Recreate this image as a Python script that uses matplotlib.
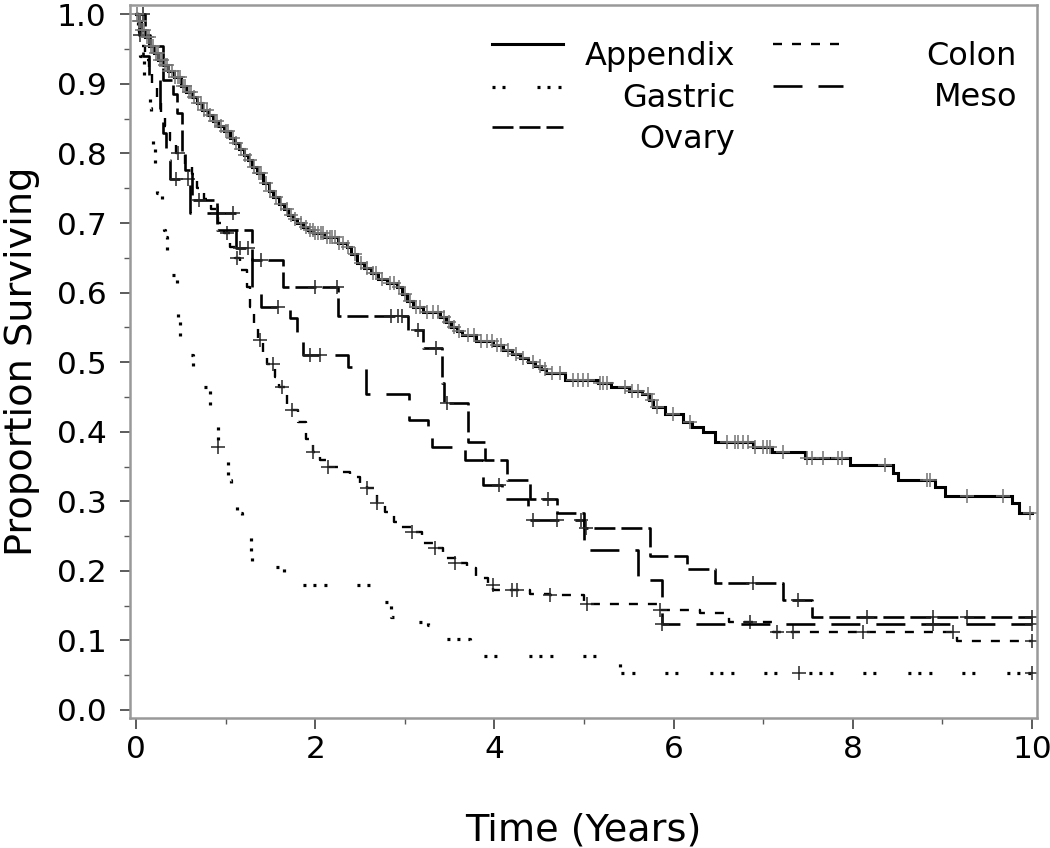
import numpy as np
import matplotlib
matplotlib.use("Agg")
import matplotlib.pyplot as plt

plt.rcParams['font.family'] = ['DejaVu Sans']
plt.rcParams['lines.scale_dashes'] = False

# Kaplan-Meier step data (time in years, proportion surviving)
app_t = [0.0, 0.03, 0.06, 0.1, 0.15, 0.2, 0.25, 0.3, 0.36, 0.42,
         0.5, 0.56, 0.62, 0.68, 0.74, 0.8, 0.86, 0.92, 0.98, 1.05,
         1.1, 1.15, 1.2, 1.25, 1.3, 1.35, 1.42, 1.48, 1.53, 1.6,
         1.65, 1.7, 1.75, 1.8, 1.86, 1.92, 1.98, 2.1, 2.25, 2.35,
         2.4, 2.47, 2.55, 2.62, 2.7, 2.8, 2.91, 2.97, 3.03, 3.09,
         3.2, 3.39, 3.46, 3.52, 3.58, 3.64, 3.8, 3.98, 4.1, 4.2,
         4.29, 4.38, 4.45, 4.52, 4.58, 4.79, 5.16, 5.3, 5.5, 5.65,
         5.72, 5.77, 5.9, 6.1, 6.2, 6.33, 6.46, 6.89, 7.1, 7.47,
         7.97, 8.45, 8.5, 8.92, 9.03, 9.78, 9.85]
app_s = [1.0, 0.99, 0.978, 0.968, 0.955, 0.945, 0.935, 0.927, 0.918, 0.91,
         0.897, 0.888, 0.881, 0.872, 0.862, 0.855, 0.847, 0.84, 0.833, 0.822,
         0.815, 0.807, 0.798, 0.79, 0.781, 0.772, 0.757, 0.746, 0.737, 0.728,
         0.72, 0.712, 0.706, 0.70, 0.695, 0.69, 0.685, 0.68, 0.672, 0.665,
         0.655, 0.642, 0.635, 0.628, 0.62, 0.614, 0.608, 0.598, 0.588, 0.579,
         0.572, 0.565, 0.558, 0.55, 0.545, 0.539, 0.53, 0.524, 0.517, 0.512,
         0.506, 0.5, 0.495, 0.49, 0.484, 0.475, 0.47, 0.464, 0.458, 0.454,
         0.445, 0.435, 0.425, 0.414, 0.407, 0.40, 0.385, 0.378, 0.371, 0.362,
         0.352, 0.34, 0.33, 0.32, 0.307, 0.297, 0.283]
app_cens = [0.01, 0.03, 0.05, 0.07, 0.09, 0.12, 0.14, 0.17, 0.19, 0.22,
            0.24, 0.27, 0.29, 0.32, 0.35, 0.37, 0.4, 0.44, 0.47, 0.49,
            0.53, 0.55, 0.59, 0.61, 0.65, 0.69, 0.72, 0.76, 0.79, 0.83,
            0.88, 0.9, 0.95, 1.0, 1.03, 1.08, 1.12, 1.17, 1.22, 1.27,
            1.32, 1.37, 1.4, 1.45, 1.5, 1.56, 1.62, 1.68, 1.73, 1.78,
            1.84, 1.9, 1.94, 1.97, 2.0, 2.03, 2.06, 2.09, 2.13, 2.16,
            2.19, 2.22, 2.27, 2.31, 2.37, 2.44, 2.51, 2.58, 2.64, 2.68,
            2.75, 2.83, 2.88, 2.94, 3.0, 3.06, 3.13, 3.17, 3.25, 3.31,
            3.37, 3.44, 3.49, 3.55, 3.61, 3.7, 3.77, 3.85, 3.92, 3.97,
            4.03, 4.07, 4.15, 4.24, 4.32, 4.43, 4.51, 4.56, 4.64, 4.73,
            4.88, 4.93, 4.99, 5.04, 5.18, 5.21, 5.26, 5.46, 5.54, 5.6,
            5.71, 5.76, 5.82, 5.99, 6.18, 6.6, 6.69, 6.72, 6.78, 6.83,
            6.91, 7.0, 7.04, 7.08, 7.22, 7.49, 7.54, 7.67, 7.83, 7.88,
            8.36, 8.83, 8.86, 9.27, 9.68, 9.98]

colon_t = [0.0, 0.03, 0.06, 0.1, 0.14, 0.18, 0.23, 0.28, 0.32, 0.38,
           0.45, 0.55, 0.62, 0.68, 0.76, 0.84, 0.92, 0.98, 1.05, 1.1,
           1.16, 1.24, 1.27, 1.32, 1.36, 1.42, 1.46, 1.55, 1.6, 1.68,
           1.72, 1.81, 1.9, 1.98, 2.05, 2.14, 2.25, 2.39, 2.5, 2.58,
           2.69, 2.78, 2.88, 2.95, 3.08, 3.19, 3.34, 3.43, 3.56, 3.69,
           3.8, 3.93, 3.99, 4.4, 4.62, 5.0, 5.85, 6.3, 6.62, 7.11, 9.16]
colon_s = [1.0, 0.975, 0.955, 0.935, 0.915, 0.9, 0.88, 0.86, 0.84, 0.82,
           0.80, 0.785, 0.77, 0.75, 0.735, 0.72, 0.70, 0.685, 0.665, 0.65,
           0.632, 0.608, 0.579, 0.55, 0.532, 0.515, 0.498, 0.478, 0.464, 0.44,
           0.431, 0.414, 0.39, 0.371, 0.36, 0.35, 0.342, 0.335, 0.325, 0.319,
           0.297, 0.285, 0.27, 0.263, 0.256, 0.24, 0.233, 0.218, 0.211, 0.204,
           0.19, 0.18, 0.172, 0.167, 0.165, 0.152, 0.144, 0.139, 0.127, 0.112, 0.099]
colon_cens = [0.47, 1.02, 1.13, 1.38, 1.53, 1.63, 1.74, 1.98, 2.14, 2.58,
              2.69, 3.08, 3.34, 3.56, 3.98, 4.2, 4.25, 4.62, 5.03, 5.85,
              6.85, 7.15, 7.33, 8.11, 9.12, 10.0]

gastric_t = [0.0, 0.02, 0.05, 0.09, 0.13, 0.16, 0.17, 0.18, 0.19, 0.21,
             0.23, 0.29, 0.31, 0.32, 0.35, 0.37, 0.46, 0.47, 0.49, 0.51,
             0.64, 0.68, 0.70, 0.83, 0.86, 0.91, 1.03, 1.06, 1.13, 1.18,
             1.28, 1.30, 1.65, 1.69, 2.70, 2.85, 2.95, 3.26, 3.39, 3.73, 5.40]
gastric_s = [1.0, 0.97, 0.94, 0.91, 0.88, 0.866, 0.837, 0.823, 0.809, 0.778,
             0.743, 0.71, 0.69, 0.68, 0.64, 0.625, 0.60, 0.565, 0.53, 0.51,
             0.49, 0.478, 0.464, 0.438, 0.42, 0.378, 0.33, 0.31, 0.283, 0.254,
             0.226, 0.205, 0.19, 0.18, 0.155, 0.134, 0.127, 0.122, 0.102, 0.077, 0.053]
gastric_cens = [0.92, 7.4, 10.0]

meso_t = [0.0, 0.03, 0.08, 0.15, 0.27, 0.3, 0.33, 0.38, 0.6, 1.12,
          1.3, 1.4, 1.72, 1.8, 1.86, 2.37, 2.57, 3.05, 3.26, 3.3,
          3.67, 3.87, 4.08, 4.38, 5.0, 5.6, 5.87]
meso_s = [1.0, 0.97, 0.94, 0.91, 0.86, 0.83, 0.79, 0.764, 0.714, 0.664,
          0.60, 0.58, 0.563, 0.53, 0.51, 0.493, 0.454, 0.417, 0.392, 0.378,
          0.359, 0.323, 0.303, 0.273, 0.23, 0.187, 0.124]
meso_cens = [0.05, 0.45, 0.58, 0.92, 1.08, 1.16, 1.25, 1.58, 1.94, 2.05,
             4.05, 4.43, 4.7, 4.97, 5.87, 8.9, 10.0]

ovary_t = [0.0, 0.1, 0.16, 0.3, 0.41, 0.46, 0.51, 0.55, 0.62, 0.9,
           1.3, 1.64, 2.25, 3.04, 3.2, 3.42, 3.44, 3.7, 3.9, 4.14,
           4.4, 4.7, 5.0, 5.74, 6.15, 6.46, 7.22, 7.54]
ovary_s = [1.0, 0.97, 0.955, 0.905, 0.886, 0.858, 0.80, 0.776, 0.733, 0.69,
           0.647, 0.608, 0.567, 0.546, 0.52, 0.47, 0.441, 0.385, 0.359, 0.33,
           0.303, 0.283, 0.262, 0.221, 0.203, 0.183, 0.158, 0.134]
ovary_cens = [0.08, 0.7, 1.4, 2.0, 2.24, 2.85, 2.92, 2.97, 3.15, 3.35,
              3.47, 4.6, 5.02, 6.89, 7.39, 8.16, 8.9, 9.27, 10.0]

PX = 1 / 1.389  # pixels -> points at dpi 100
styles = {
    'Appendix': dict(ls='-', lw=2.2),
    'Colon': dict(ls=(0, (9 * PX, 10 * PX)), lw=1.7),
    'Gastric': dict(ls=(0, (np.array([3, 7, 3, 32, 3, 7, 3, 8, 3, 30]) * PX).tolist()), lw=2.3),
    'Meso': dict(ls=(0, (29 * PX, 16 * PX)), lw=1.9),
    'Ovary': dict(ls=(0, (21 * PX, 6 * PX)), lw=1.9),
}
series = {
    'Appendix': (app_t, app_s, app_cens, '0.45'),
    'Colon': (colon_t, colon_s, colon_cens, '0.15'),
    'Gastric': (gastric_t, gastric_s, gastric_cens, '0.15'),
    'Meso': (meso_t, meso_s, meso_cens, '0.15'),
    'Ovary': (ovary_t, ovary_s, ovary_cens, '0.15'),
}

fig = plt.figure(figsize=(10.5, 8.48), dpi=100)
ax = fig.add_axes([130 / 1050, (848 - 718) / 848, 907 / 1050, 713 / 848])

for name in ['Gastric', 'Colon', 'Meso', 'Ovary', 'Appendix']:
    t, s, cens, ccol = series[name]
    t = np.asarray(t)
    s = np.asarray(s)
    ax.step(np.append(t, 10.0), np.append(s, s[-1]), where='post',
            color='black', solid_joinstyle='miter', **styles[name])
    ct = np.asarray(cens)
    cs = s[np.searchsorted(t, ct, side='right') - 1]
    ax.plot(ct, cs, ls='none', marker='+', ms=10, mew=1.1, color=ccol)

ax.set_xlim(-0.067, 10.056)
ax.set_ylim(-0.0115, 1.0134)
ax.set_xticks(np.arange(0, 11, 2))
ax.set_xticks(np.arange(1, 10, 2), minor=True)
ax.set_yticks(np.round(np.arange(0, 1.01, 0.1), 1))
ax.set_yticks(np.round(np.arange(0.05, 1.0, 0.1), 2), minor=True)
ax.set_yticklabels([f'{v:.1f}' for v in np.arange(0, 1.01, 0.1)])
ax.tick_params(axis='both', which='major', labelsize=22.5, length=7, width=1.2,
               color='0.25', direction='out')
ax.tick_params(axis='both', which='minor', length=4, width=1.0, color='0.35',
               direction='out')
ax.tick_params(axis='x', which='major', length=8, pad=4)
ax.tick_params(axis='y', which='major', pad=10)
for sp in ax.spines.values():
    sp.set_color('0.6')
    sp.set_linewidth(1.8)

ax.set_xlabel('Time (Years)', fontsize=27.5)
ax.xaxis.set_label_coords(0.5, -(830 - 718) / 713)
ax.xaxis.label.set_va('center')
ax.set_ylabel('Proportion Surviving', fontsize=27.5)
ax.yaxis.set_label_coords((22 - 130) / 907, 0.5)
ax.yaxis.label.set_va('center')

# legend: handles on the left, labels right-aligned (two columns)
def ax_x(px):
    return (px - 130) / 907

def ax_y(py):
    return (718 - py) / 713

legend_rows = [('Appendix', 492, 563, 44, 735, 65),
               ('Gastric', 492, 563, 87, 735, 107),
               ('Ovary', 492, 563, 127, 735, 148),
               ('Colon', 773, 843, 44, 1017, 65),
               ('Meso', 773, 843, 86, 1017, 106)]
for name, x0, x1, ly, tx, ty in legend_rows:
    ax.plot([ax_x(x0), ax_x(x1)], [ax_y(ly), ax_y(ly)], transform=ax.transAxes,
            color='black', clip_on=False, **styles[name])
    ax.text(ax_x(tx), ax_y(ty), name, transform=ax.transAxes, ha='right',
            va='baseline', fontsize=23)

fig.savefig('out.png', dpi=100)
